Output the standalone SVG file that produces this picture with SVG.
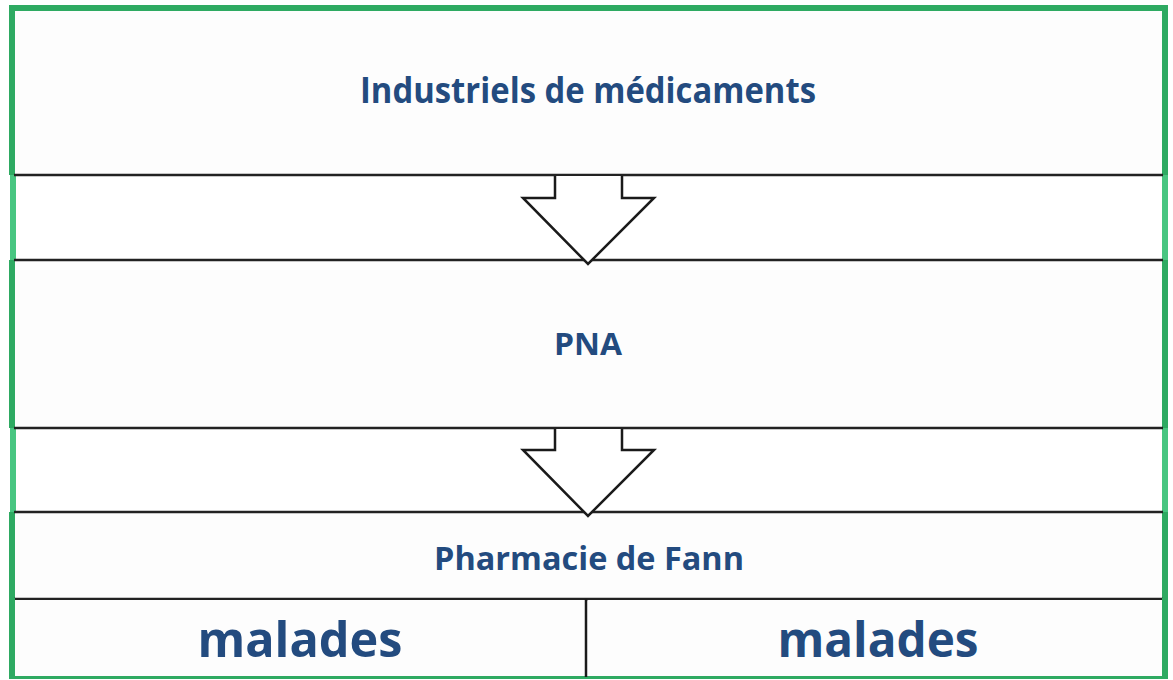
<svg xmlns="http://www.w3.org/2000/svg" width="1173" height="680" viewBox="0 0 1173 680">
<style>
.box{fill:#fdfdfd;stroke:none}
.hl{stroke:#222;stroke-width:2.5;fill:none}
.gd{fill:#2eaa62}
.gl{fill:#48c681}
.t{font-family:"Open Sans","Noto Sans","Liberation Sans",sans-serif;font-weight:bold;fill:#234b7f;text-anchor:middle}
.arrow{fill:#ffffff;stroke:#1a1a1a;stroke-width:2.5;stroke-linejoin:miter}
</style>
<rect width="1173" height="680" fill="#ffffff"/>
<rect class="gl" x="10" y="175" width="6" height="337"/>
<rect class="gl" x="1162" y="175" width="6" height="337"/>
<g id="node-industriels">
<rect class="box" x="14" y="10" width="1149" height="165"/>
<rect class="gd" x="9" y="5" width="1159" height="6"/>
<rect class="gd" x="9" y="5" width="6" height="170"/>
<rect class="gd" x="1162" y="5" width="6" height="170"/>
<line class="hl" x1="14" y1="175" x2="1163" y2="175"/>
<text class="t" x="588" y="103" font-size="36" textLength="456" lengthAdjust="spacingAndGlyphs">Industriels de médicaments</text>
</g>
<g id="node-pna">
<rect class="box" x="14" y="260" width="1149" height="168"/>
<rect class="gd" x="9" y="260" width="6" height="168"/>
<rect class="gd" x="1162" y="260" width="6" height="168"/>
<line class="hl" x1="14" y1="260" x2="1163" y2="260"/>
<line class="hl" x1="14" y1="428" x2="1163" y2="428"/>
<text class="t" x="588" y="355" font-size="31" textLength="68" lengthAdjust="spacingAndGlyphs">PNA</text>
</g>
<g id="node-pharmacie">
<rect class="box" x="14" y="512" width="1149" height="86"/>
<rect class="gd" x="9" y="512" width="6" height="86"/>
<rect class="gd" x="1162" y="512" width="6" height="86"/>
<line class="hl" x1="14" y1="512" x2="1163" y2="512"/>
<line class="hl" x1="14" y1="599" x2="1163" y2="599"/>
<text class="t" x="589" y="570" font-size="33" textLength="310" lengthAdjust="spacingAndGlyphs">Pharmacie de Fann</text>
</g>
<g id="node-malades-1">
<rect class="box" x="14" y="600" width="572" height="76"/>
<text class="t" x="300" y="657" font-size="48" textLength="205" lengthAdjust="spacingAndGlyphs">malades</text>
</g>
<g id="node-malades-2">
<rect class="box" x="588" y="600" width="575" height="76"/>
<text class="t" x="878" y="657" font-size="48" textLength="201" lengthAdjust="spacingAndGlyphs">malades</text>
</g>
<g id="frame-bottom">
<rect class="gd" x="9" y="598" width="6" height="81"/>
<rect class="gd" x="1162" y="598" width="6" height="81"/>
<rect class="gd" x="9" y="676" width="1159" height="3"/>
<line stroke="#1a1a1a" stroke-width="2.5" x1="586" y1="599" x2="586" y2="677"/>
</g>
<g id="connectors">
<path class="arrow" d="M555,176 L555,198 L523,198 L588,264 L654,198 L622,198 L622,176"/>
<path class="arrow" d="M555,429 L555,450 L523,450 L588,516 L654,450 L622,450 L622,429"/>
</g>
</svg>
